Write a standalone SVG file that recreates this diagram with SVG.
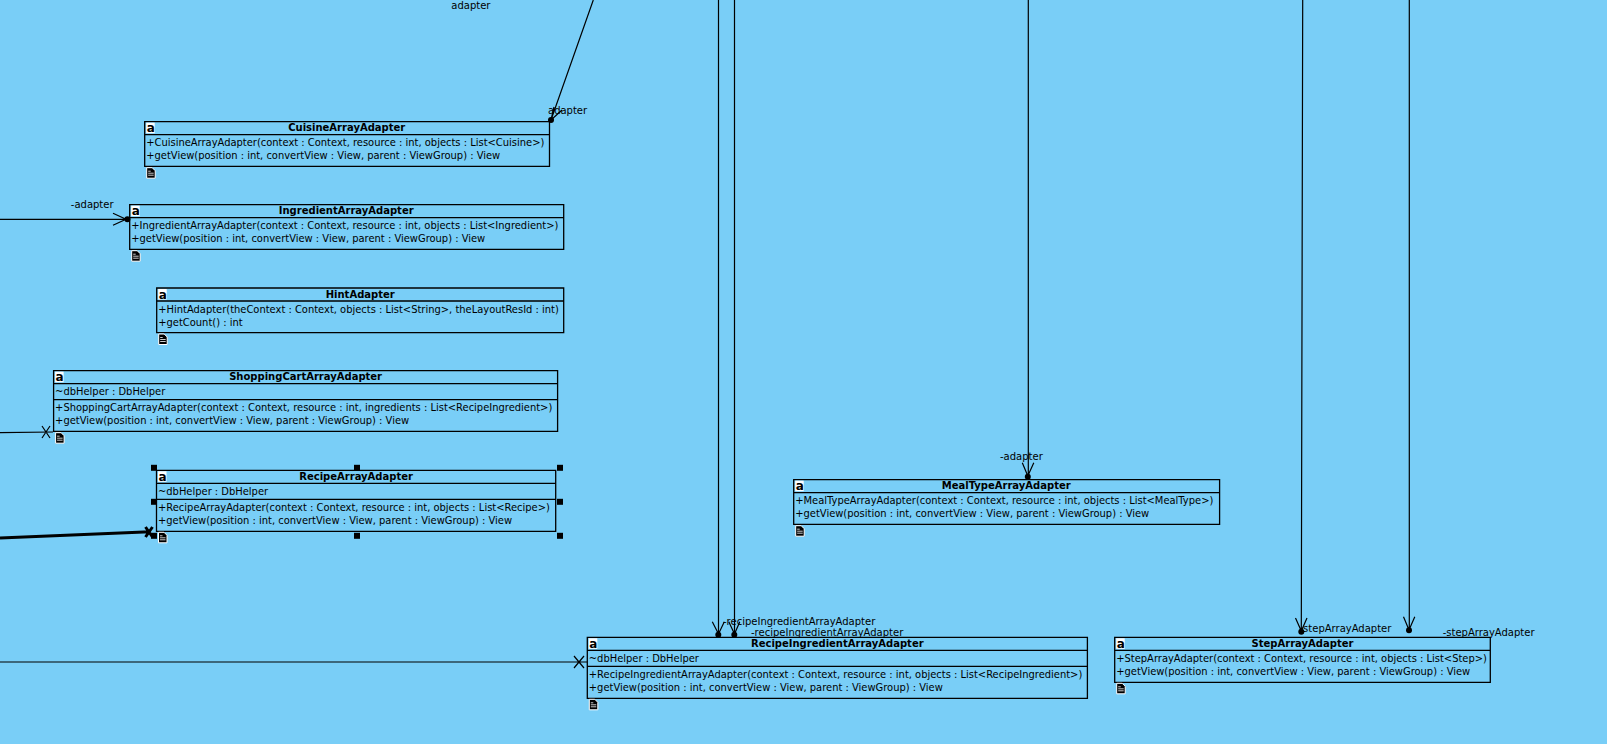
<svg xmlns="http://www.w3.org/2000/svg" width="1607" height="744" viewBox="0 0 1607 744">
<style>
text{font-family:"DejaVu Sans",sans-serif;font-size:10px;fill:#000}
.m{font-size:9.94px}
.t{font-weight:bold;text-anchor:middle}
.b{fill:none;stroke:#000;stroke-width:1.3}
.c{fill:none;stroke:#000;stroke-width:1.2}
.k{fill:none;stroke:#000;stroke-width:3}
.d{fill:#000}
.ia{fill:#fff}
.ig{font-size:12px;font-weight:bold}
</style>
<defs>
<g id="ic"><rect class="ia" x="1.5" y="1" width="8.5" height="10.5"/><text class="ig" x="2" y="10.5">a</text></g>
<g id="doc"><path d="M0 0H5.5L8.5 3V10.5H0Z" fill="#000" stroke="#fff" stroke-width="1"/><path d="M1.5 3.5H4M1.5 5.5H7M1.5 7.5H7" stroke="#fff" stroke-width="0.8"/></g>
</defs>
<rect width="1607" height="744" fill="#79cef7"/>
<g id="connectors">
<path class="c" d="M593.3 0L551 120M551 120L554 107M551 120L562 110"/>
<circle class="d" cx="551" cy="120" r="3"/>
<path class="c" d="M0 219.3H127M113 213.3L126 219.3L113 225.3"/>
<circle class="d" cx="127.4" cy="219.3" r="3"/>
<path class="c" d="M0 432.7L53 432M42 426L50 438M50 426L42 438"/>
<path class="k" d="M0 538L150 531.7M145.5 527L152.5 537M152.5 527L145.5 537"/>
<path class="c" d="M718.5 0V634M712.3 621.7L718.5 634L724.3 621.7"/>
<circle class="d" cx="718.3" cy="634.7" r="3"/>
<path class="c" d="M734.5 0V634M728.8 621.7L734.5 634L739.8 621.7"/>
<circle class="d" cx="734.3" cy="634.7" r="3"/>
<path class="c" d="M1028.3 0V476M1022.3 462.7L1027.8 476L1033.8 462.7"/>
<circle class="d" cx="1027.8" cy="476.7" r="3"/>
<path class="c" d="M1302.7 0L1301.3 631M1295.5 618L1301.3 631L1307 618"/>
<circle class="d" cx="1301.3" cy="631.7" r="3"/>
<path class="c" d="M1409.3 0V630M1403.5 616.7L1409 630L1414.8 616.7"/>
<circle class="d" cx="1409" cy="630.3" r="3"/>
<path class="c" d="M0 662H587M574 656L584 668M584 656L574 668"/>
</g>
<g id="labels">
<text x="451.3" y="9">adapter</text>
<text x="548" y="114">adapter</text>
<text x="70.8" y="208">-adapter</text>
<text x="1000" y="460">-adapter</text>
<text x="723" y="625.3">-recipeIngredientArrayAdapter</text>
<text x="751" y="635.7">-recipeIngredientArrayAdapter</text>
<text x="1299.5" y="632">-stepArrayAdapter</text>
<text x="1442.7" y="636">-stepArrayAdapter</text>
</g>
<g id="CuisineArrayAdapter" transform="translate(144.7 121.7)">
<path class="b" d="M0 0H404.8V44.6H0ZM0 13H404.8"/>
<use href="#ic"/><use href="#doc" x="2" y="46"/>
<text class="t" x="202" y="9.5">CuisineArrayAdapter</text>
<text class="m" x="1.5" y="24.5">+CuisineArrayAdapter(context : Context, resource : int, objects : List&lt;Cuisine&gt;)</text>
<text class="m" x="1.5" y="37.5">+getView(position : int, convertView : View, parent : ViewGroup) : View</text>
</g>
<g id="IngredientArrayAdapter" transform="translate(129.7 204.7)">
<path class="b" d="M0 0H434V44.6H0ZM0 13H434"/>
<use href="#ic"/><use href="#doc" x="2" y="46"/>
<text class="t" x="216.5" y="9.5">IngredientArrayAdapter</text>
<text class="m" x="1.5" y="24.5">+IngredientArrayAdapter(context : Context, resource : int, objects : List&lt;Ingredient&gt;)</text>
<text class="m" x="1.5" y="37.5">+getView(position : int, convertView : View, parent : ViewGroup) : View</text>
</g>
<g id="HintAdapter" transform="translate(156.7 288)">
<path class="b" d="M0 0H407V44.6H0ZM0 13H407"/>
<use href="#ic"/><use href="#doc" x="2" y="46"/>
<text class="t" x="203.5" y="9.5">HintAdapter</text>
<text class="m" x="1.5" y="24.5">+HintAdapter(theContext : Context, objects : List&lt;String&gt;, theLayoutResId : int)</text>
<text class="m" x="1.5" y="37.5">+getCount() : int</text>
</g>
<g id="ShoppingCartArrayAdapter" transform="translate(53.6 370.7)">
<path class="b" d="M0 0H504V60.6H0ZM0 13H504M0 29H504"/>
<use href="#ic"/><use href="#doc" x="2" y="62"/>
<text class="t" x="252" y="9.5">ShoppingCartArrayAdapter</text>
<text class="m" x="1.5" y="24.5">~dbHelper : DbHelper</text>
<text class="m" x="1.5" y="40.5">+ShoppingCartArrayAdapter(context : Context, resource : int, ingredients : List&lt;RecipeIngredient&gt;)</text>
<text class="m" x="1.5" y="53.5">+getView(position : int, convertView : View, parent : ViewGroup) : View</text>
</g>
<g id="RecipeArrayAdapter" transform="translate(156.5 470.3)">
<path class="b" d="M0 0H399.2V61H0ZM0 13H399.2M0 29H399.2"/>
<use href="#ic"/><use href="#doc" x="2" y="62"/>
<text class="t" x="199.6" y="9.5">RecipeArrayAdapter</text>
<text class="m" x="1.5" y="24.5">~dbHelper : DbHelper</text>
<text class="m" x="1.5" y="40.5">+RecipeArrayAdapter(context : Context, resource : int, objects : List&lt;Recipe&gt;)</text>
<text class="m" x="1.5" y="53.5">+getView(position : int, convertView : View, parent : ViewGroup) : View</text>
<g class="d">
<rect x="-5.5" y="-5.5" width="6" height="6"/><rect x="197.5" y="-5.5" width="6" height="6"/><rect x="400.5" y="-5.5" width="6" height="6"/>
<rect x="-5.5" y="28.5" width="6" height="6"/><rect x="400.5" y="28.5" width="6" height="6"/>
<rect x="-5.5" y="62.5" width="6" height="6"/><rect x="197.5" y="62.5" width="6" height="6"/><rect x="400.5" y="62.5" width="6" height="6"/>
</g>
</g>
<g id="MealTypeArrayAdapter" transform="translate(793.7 479.7)">
<path class="b" d="M0 0H425.9V44.6H0ZM0 13H425.9"/>
<use href="#ic"/><use href="#doc" x="2" y="46"/>
<text class="t" x="212.5" y="9.5">MealTypeArrayAdapter</text>
<text class="m" x="1.5" y="24.5">+MealTypeArrayAdapter(context : Context, resource : int, objects : List&lt;MealType&gt;)</text>
<text class="m" x="1.5" y="37.5">+getView(position : int, convertView : View, parent : ViewGroup) : View</text>
</g>
<g id="RecipeIngredientArrayAdapter" transform="translate(587.3 637.3)">
<path class="b" d="M0 0H500.1V61H0ZM0 13H500.1M0 29H500.1"/>
<use href="#ic"/><use href="#doc" x="2" y="62"/>
<text class="t" x="250" y="9.5">RecipeIngredientArrayAdapter</text>
<text class="m" x="1.5" y="24.5">~dbHelper : DbHelper</text>
<text class="m" x="1.5" y="40.5">+RecipeIngredientArrayAdapter(context : Context, resource : int, objects : List&lt;RecipeIngredient&gt;)</text>
<text class="m" x="1.5" y="53.5">+getView(position : int, convertView : View, parent : ViewGroup) : View</text>
</g>
<g id="StepArrayAdapter" transform="translate(1114.7 637.3)">
<path class="b" d="M0 0H375.6V45H0ZM0 13H375.6"/>
<use href="#ic"/><use href="#doc" x="2" y="46"/>
<text class="t" x="187.8" y="9.5">StepArrayAdapter</text>
<text class="m" x="1.5" y="24.5">+StepArrayAdapter(context : Context, resource : int, objects : List&lt;Step&gt;)</text>
<text class="m" x="1.5" y="37.5">+getView(position : int, convertView : View, parent : ViewGroup) : View</text>
</g>
</svg>
